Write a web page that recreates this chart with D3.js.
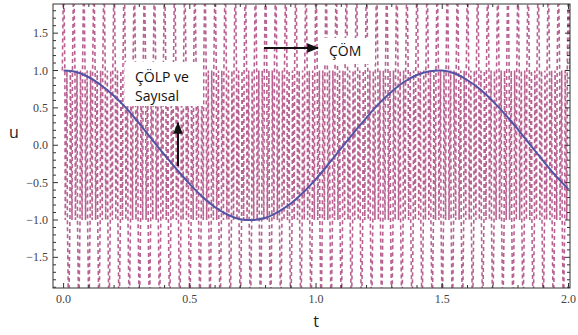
<!DOCTYPE html>
<html><head><meta charset="utf-8">
<script src="https://cdn.jsdelivr.net/npm/d3@7"></script>
<style>body{margin:0;background:#fff}svg{display:block}</style>
</head><body>
<script>
// Smooth solution (ÇÖLP ve Sayısal)
const lpT = [0,0.05,0.1,0.15,0.2,0.25,0.3,0.35,0.4,0.45,0.5,0.55,0.6,0.65,0.7,0.75,0.8,0.85,0.9,0.95,1.0,1.05,1.1,1.15,1.2,1.25,1.3,1.35,1.4,1.45,1.5,1.55,1.6,1.65,1.7,1.75,1.8,1.85,1.9,1.95,2.0];
const lpU = [1.00,0.98,0.91,0.80,0.66,0.49,0.29,0.08,-0.13,-0.33,-0.52,-0.69,-0.83,-0.93,-0.99,-1.00,-0.97,-0.89,-0.78,-0.63,-0.45,-0.25,-0.04,0.17,0.37,0.56,0.72,0.85,0.94,0.99,1.00,0.96,0.87,0.75,0.59,0.41,0.21,0.00,-0.21,-0.41,-0.59];
// Oscillating solution (ÇÖM): spike times and spike directions
const comT = [0.00,0.02,0.04,0.06,0.08,0.10,0.12,0.14,0.16,0.18,0.20,0.22,0.24,0.26,0.28,0.30,0.32,0.34,0.36,0.38,0.40,0.42,0.44,0.46,0.48,0.50,0.52,0.54,0.56,0.58,0.60,0.62,0.64,0.66,0.68,0.70,0.72,0.74,0.76,0.78,0.80,0.82,0.84,0.86,0.88,0.90,0.92,0.94,0.96,0.98,1.00,1.02,1.04,1.06,1.08,1.10,1.12,1.14,1.16,1.18,1.20,1.22,1.24,1.26,1.28,1.30,1.32,1.34,1.36,1.38,1.40,1.42,1.44,1.46,1.48,1.50,1.52,1.54,1.56,1.58,1.60,1.62,1.64,1.66,1.68,1.70,1.72,1.74,1.76,1.78,1.80,1.82,1.84,1.86,1.88,1.90,1.92,1.94,1.96,1.98,2.00];
const comBand = [1,-1,1,-1,1,-1,1,-1,1,-1,1,-1,1,-1,1,-1,1,-1,1,-1,1,-1,1,-1,1,-1,1,-1,1,-1,1,-1,1,-1,1,-1,1,-1,1,-1,1,-1,1,-1,1,-1,1,-1,1,-1,1,-1,1,-1,1,-1,1,-1,1,-1,1,-1,1,-1,1,-1,1,-1,1,-1,1,-1,1,-1,1,-1,1,-1,1,-1,1,-1,1,-1,1,-1,1,-1,1,-1,1,-1,1,-1,1,-1,1,-1,1,-1,1];
const comPeak = 2.4; // spikes leave the plotted range
const xMajor = [0,0.5,1.0,1.5,2.0];
const xMajorLabels = ["0.0","0.5","1.0","1.5","2.0"];
const yMajor = [-1.5,-1.0,-0.5,0.0,0.5,1.0,1.5];
const yMajorLabels = ["\u22121.5","\u22121.0","\u22120.5","0.0","0.5","1.0","1.5"];

const W = 578, H = 335;
const svg = d3.select("body").append("svg").attr("width", W).attr("height", H);
const L = 53, R = 570, T = 4, B = 288;
const x = d3.scaleLinear().domain([-0.042, 2.006]).range([L, R]);
const y = d3.scaleLinear().domain([-1.91, 1.89]).range([B, T]);

svg.append("clipPath").attr("id","clip").append("rect")
  .attr("x", L).attr("y", T).attr("width", R-L).attr("height", B-T);

const g = svg.append("g").attr("clip-path","url(#clip)");

// ÇÖM path: spikes at each listed time, with fast band oscillation in between
const dT = 0.005;
const comPts = [];
comT.forEach((t,i) => {
  const s = comBand[i];
  comPts.push([t - dT, s]);
  comPts.push([t, s*comPeak]);
  comPts.push([t + dT, s]);
  if (i < comT.length - 1) {
    const t2 = comT[i+1];
    comPts.push([t + (t2 - t) / 3, -s]);
    comPts.push([t + 2 * (t2 - t) / 3, s]);
  }
});
const line = d3.line().x(d => x(d[0])).y(d => y(d[1]));
g.append("path").attr("d", line(comPts))
  .attr("fill","none").attr("stroke","#a8407a").attr("stroke-width",1.6)
  .attr("stroke-dasharray","4,3").attr("opacity",0.82);

// Smooth solution
g.append("path").attr("d", d3.line().curve(d3.curveCatmullRom).x((d,i)=>x(lpT[i])).y(d=>y(d))(lpU))
  .attr("fill","none").attr("stroke","#5353a3").attr("stroke-width",2);

// Frame
svg.append("rect").attr("x",L).attr("y",T).attr("width",R-L).attr("height",B-T)
  .attr("fill","none").attr("stroke","#333").attr("stroke-width",1);

// Ticks
const xMinor = d3.range(0, 2.0001, 0.1);
const yMinor = d3.range(-1.9, 1.9001, 0.1);
const tk = svg.append("g").attr("stroke","#333").attr("stroke-width",1);
xMinor.forEach(v => {
  const major = xMajor.some(m => Math.abs(m - v) < 1e-6);
  const len = major ? 5 : 3;
  tk.append("line").attr("x1",x(v)).attr("x2",x(v)).attr("y1",B).attr("y2",B-len);
  tk.append("line").attr("x1",x(v)).attr("x2",x(v)).attr("y1",T).attr("y2",T+len);
});
yMinor.forEach(v => {
  if (y(v) < T || y(v) > B) return;
  const major = yMajor.some(m => Math.abs(m - v) < 1e-6);
  const len = major ? 5 : 3;
  tk.append("line").attr("y1",y(v)).attr("y2",y(v)).attr("x1",L).attr("x2",L+len);
  tk.append("line").attr("y1",y(v)).attr("y2",y(v)).attr("x1",R).attr("x2",R-len);
});

// Tick labels
const lab = svg.append("g").attr("font-family","Liberation Serif, serif").attr("font-size",12).attr("fill","#444");
xMajor.forEach((v,i) => lab.append("text").attr("x",x(v)).attr("y",B+15).attr("text-anchor","middle").text(xMajorLabels[i]));
yMajor.forEach((v,i) => lab.append("text").attr("x",L-5).attr("y",y(v)+4).attr("text-anchor","end").text(yMajorLabels[i]));

// Axis titles
svg.append("text").attr("x",14).attr("y",y(0)-7).attr("text-anchor","middle")
  .attr("font-family","Open Sans, sans-serif").attr("font-size",16).attr("fill","#222").text("u");
svg.append("text").attr("x",x(1.0)).attr("y",327).attr("text-anchor","middle")
  .attr("font-family","Open Sans, sans-serif").attr("font-size",16).attr("fill","#222").text("t");

// Annotations
const ann = svg.append("g");
ann.append("rect").attr("x",125).attr("y",62).attr("width",78).attr("height",44).attr("fill","#fff");
ann.append("text").attr("x",135).attr("y",82).attr("font-family","Open Sans, sans-serif").attr("font-size",14).attr("fill","#111").text("ÇÖLP ve");
ann.append("text").attr("x",135).attr("y",101).attr("font-family","Open Sans, sans-serif").attr("font-size",14).attr("fill","#111").text("Sayısal");
ann.append("rect").attr("x",323).attr("y",38).attr("width",52).attr("height",26).attr("fill","#fff");
ann.append("text").attr("x",329).attr("y",56).attr("font-family","Open Sans, sans-serif").attr("font-size",14).attr("fill","#111").text("ÇÖM");

const defs = svg.append("defs");
defs.append("marker").attr("id","ah").attr("viewBox","0 0 10 10").attr("refX",9).attr("refY",5)
  .attr("markerWidth",6).attr("markerHeight",6).attr("orient","auto")
  .append("path").attr("d","M0,1L10,5L0,9Z").attr("fill","#111");
ann.append("line").attr("x1",178).attr("y1",166).attr("x2",178).attr("y2",123)
  .attr("stroke","#111").attr("stroke-width",2).attr("marker-end","url(#ah)");
ann.append("line").attr("x1",264).attr("y1",48).attr("x2",318).attr("y2",48)
  .attr("stroke","#111").attr("stroke-width",2).attr("marker-end","url(#ah)");
</script>
</body></html>
